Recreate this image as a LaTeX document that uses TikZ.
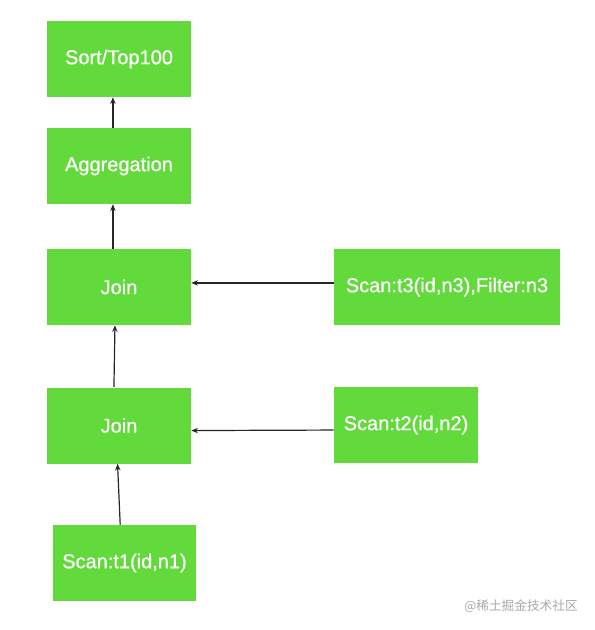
\documentclass[tikz,border=0pt]{standalone}
\usepackage{fontspec}
\setmainfont{Liberation Sans}
\newfontfamily\boxfont[FakeBold=0.7]{Liberation Sans}
\newfontfamily\cjk{Noto Sans CJK SC}
\usetikzlibrary{arrows.meta,calc}
\definecolor{boxgreen}{RGB}{98,218,59}
\definecolor{wmgray}{RGB}{170,170,170}
\begin{document}
\begin{tikzpicture}[x=0.75pt,y=-0.75pt,
  opbox/.style={fill=boxgreen,draw=none,text=white,font=\boxfont\fontsize{15}{18}\selectfont,inner sep=0pt,minimum height=57pt},
  flow/.style={draw=black!85,line width=0.9pt,-{Stealth[length=5pt,width=4pt]}}]
\useasboundingbox[fill=white] (0,0) rectangle (594,630);
\node[opbox,minimum width=108pt] (sort) at (119,59) {\raisebox{-1pt}{Sort/Top100}};
\node[opbox,minimum width=108pt] (agg) at (119,166) {\raisebox{-1pt}{Aggregation}};
\node[opbox,minimum width=108pt] (join1) at (119,287) {\raisebox{-1pt}{Join}};
\node[opbox,minimum width=108pt] (join2) at (119,425.5) {\raisebox{-1pt}{Join}};
\node[opbox,minimum width=107pt] (t1) at (124.5,563) {\raisebox{-1pt}{Scan:t1(id,n1)}};
\node[opbox,minimum width=169.5pt] (t3) at (447,287) {\raisebox{-1pt}{Scan:t3(id,n3),Filter:n3}};
\node[opbox,minimum width=108pt] (t2) at (406,425) {\raisebox{-1pt}{Scan:t2(id,n2)}};
\draw[flow] ($(agg.north west)!0.458!(agg.north east)$) -- ($(sort.south west)!0.458!(sort.south east)$);
\draw[flow] ($(join1.north west)!0.458!(join1.north east)$) -- ($(agg.south west)!0.458!(agg.south east)$);
\draw[flow] ($(join2.north west)!0.465!(join2.north east)$) -- ($(join1.south west)!0.472!(join1.south east)$);
\draw[flow] ($(t1.north west)!0.47!(t1.north east)$) -- ($(join2.south west)!0.49!(join2.south east)$);
\draw[flow] ($(t3.north west)!0.447!(t3.south west)$) -- ($(join1.north east)!0.447!(join1.south east)$);
\draw[flow] ($(t2.north west)!0.566!(t2.south west)$) -- ($(join2.north east)!0.566!(join2.south east)$);
\node[text=wmgray,font=\cjk\fontsize{9.5}{11}\selectfont,anchor=center] (wm) at (521,606) {@稀土掘金技术社区};
\end{tikzpicture}
\end{document}
